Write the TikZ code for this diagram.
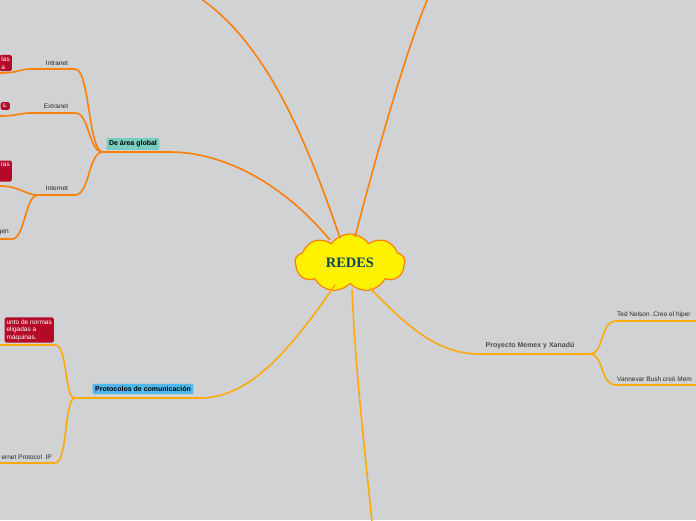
\documentclass[tikz,border=0pt]{standalone}
\usepackage{fontspec}
\setmainfont{Liberation Sans}
\usetikzlibrary{shapes.symbols}
\definecolor{bg}{RGB}{208,210,212}
\definecolor{darkor}{RGB}{250,128,10}
\definecolor{lightor}{RGB}{255,170,10}
\definecolor{redbox}{RGB}{180,10,40}
\definecolor{tealbox}{RGB}{120,205,190}
\definecolor{bluebox}{RGB}{80,185,235}

\begin{document}
\begin{tikzpicture}[x=1pt,y=-1pt,
    branch/.style={line width=1.6pt,darkor},
    branchb/.style={line width=1.6pt,lightor},
    small/.style={font=\fontsize{6.5}{7.5}\selectfont,text=black!85,inner sep=1pt},
    topic/.style={font=\bfseries\fontsize{7}{8}\selectfont,rounded corners=1pt,inner sep=2.5pt},
    note/.style={fill=redbox,text=white,rounded corners=1.5pt,font=\fontsize{6.5}{7.5}\selectfont,align=left,inner sep=2pt,anchor=east}]
    \fill[bg] (0,0) rectangle (696,520);
    \useasboundingbox (0,0) rectangle (696,520);
    \clip (0,0) rectangle (696,520);

    % central topic
    \node[cloud,cloud puffs=9,cloud puff arc=110,aspect=2,fill=yellow,draw=darkor,line width=1.2pt,
          minimum width=110,minimum height=58,font=\bfseries\Large,text={rgb,255:red,10;green,70;blue,90}]
        (redes) at (350,263) {\fontspec{Liberation Serif}REDES};

    % outer ends
    \coordinate (top1) at (200,-2);
    \coordinate (top2) at (428,-2);
    \coordinate (bot) at (372,522);
    \coordinate (glob) at (103,152);
    \coordinate (prot) at (75,398);
    \coordinate (memex) at (590,354);

    \draw[branch] (340,238) .. controls (300,120) and (260,40) .. (top1);
    \draw[branch] (355,237) .. controls (380,140) and (410,40) .. (top2);
    \draw[branch] (330,240) .. controls (280,180) and (220,152) .. (170,152) -- (glob);
    \draw[branchb] (335,285) .. controls (290,350) and (250,398) .. (200,398) -- (prot);
    \draw[branchb] (370,288) .. controls (410,330) and (440,354) .. (480,354) -- (memex);
    \draw[branchb] (352,290) .. controls (356,380) and (366,460) .. (bot);

    \node[topic,fill=tealbox] (global) at (133,144) {De área global};
    \node[topic,fill=bluebox] (protocolos) at (143,389) {Protocolos de comunicación};
    \node[small,font=\bfseries\fontsize{7}{8}\selectfont,text=black!70] (proyecto) at (530,346) {Proyecto Memex y Xanadú};

    % De área global
    \coordinate (intra) at (75,69);
    \coordinate (extra) at (75,113);
    \coordinate (inter) at (75,195);
    \draw[branch] (glob) .. controls (88,152) and (90,69) .. (intra) -- (30,69) .. controls (20,69) and (18,73) .. (0,73);
    \draw[branch] (glob) .. controls (88,152) and (90,113) .. (extra) -- (30,113) .. controls (20,113) and (18,116) .. (0,116);
    \draw[branch] (glob) .. controls (88,152) and (90,195) .. (inter) -- (38,195);
    \draw[branch] (38,195) .. controls (25,195) and (20,186) .. (0,186);
    \draw[branch] (38,195) .. controls (25,195) and (25,239) .. (12,239) -- (0,239);
    \node[small] (intranet) at (57,63) {Intranet};
    \node[small] (extranet) at (56,106) {Extranet};
    \node[small] (internet) at (57,188) {Internet};
    \node[small,anchor=east] (gen) at (10,232) {gen};
    \node[note] (n1) at (12,63) {las\\a};
    \node[note] (n2) at (10,106) {s.};
    \node[note] (n3) at (12,171) {ras\\[6pt]~};

    % Protocolos
    \draw[branchb] (prot) .. controls (64,398) and (68,345) .. (55,345) -- (0,345);
    \draw[branchb] (prot) .. controls (64,398) and (68,463) .. (55,463) -- (0,463);
    \node[note] (n4) at (54,330) {unto de normas\\eligadas a\\máquinas.};
    \node[small,anchor=east] (ip) at (53,457) {ernet Protocol\ \ IP};

    % Memex
    \draw[branchb] (memex) .. controls (604,354) and (600,321) .. (616,321) -- (696,321);
    \draw[branchb] (memex) .. controls (604,354) and (600,385) .. (616,385) -- (696,385);
    \node[small,anchor=west] (ted) at (616,315) {Ted Nelson .Creo el hiper};
    \node[small,anchor=west] (bush) at (616,379) {Vannevar Bush creó Mem};
\end{tikzpicture}
\end{document}
